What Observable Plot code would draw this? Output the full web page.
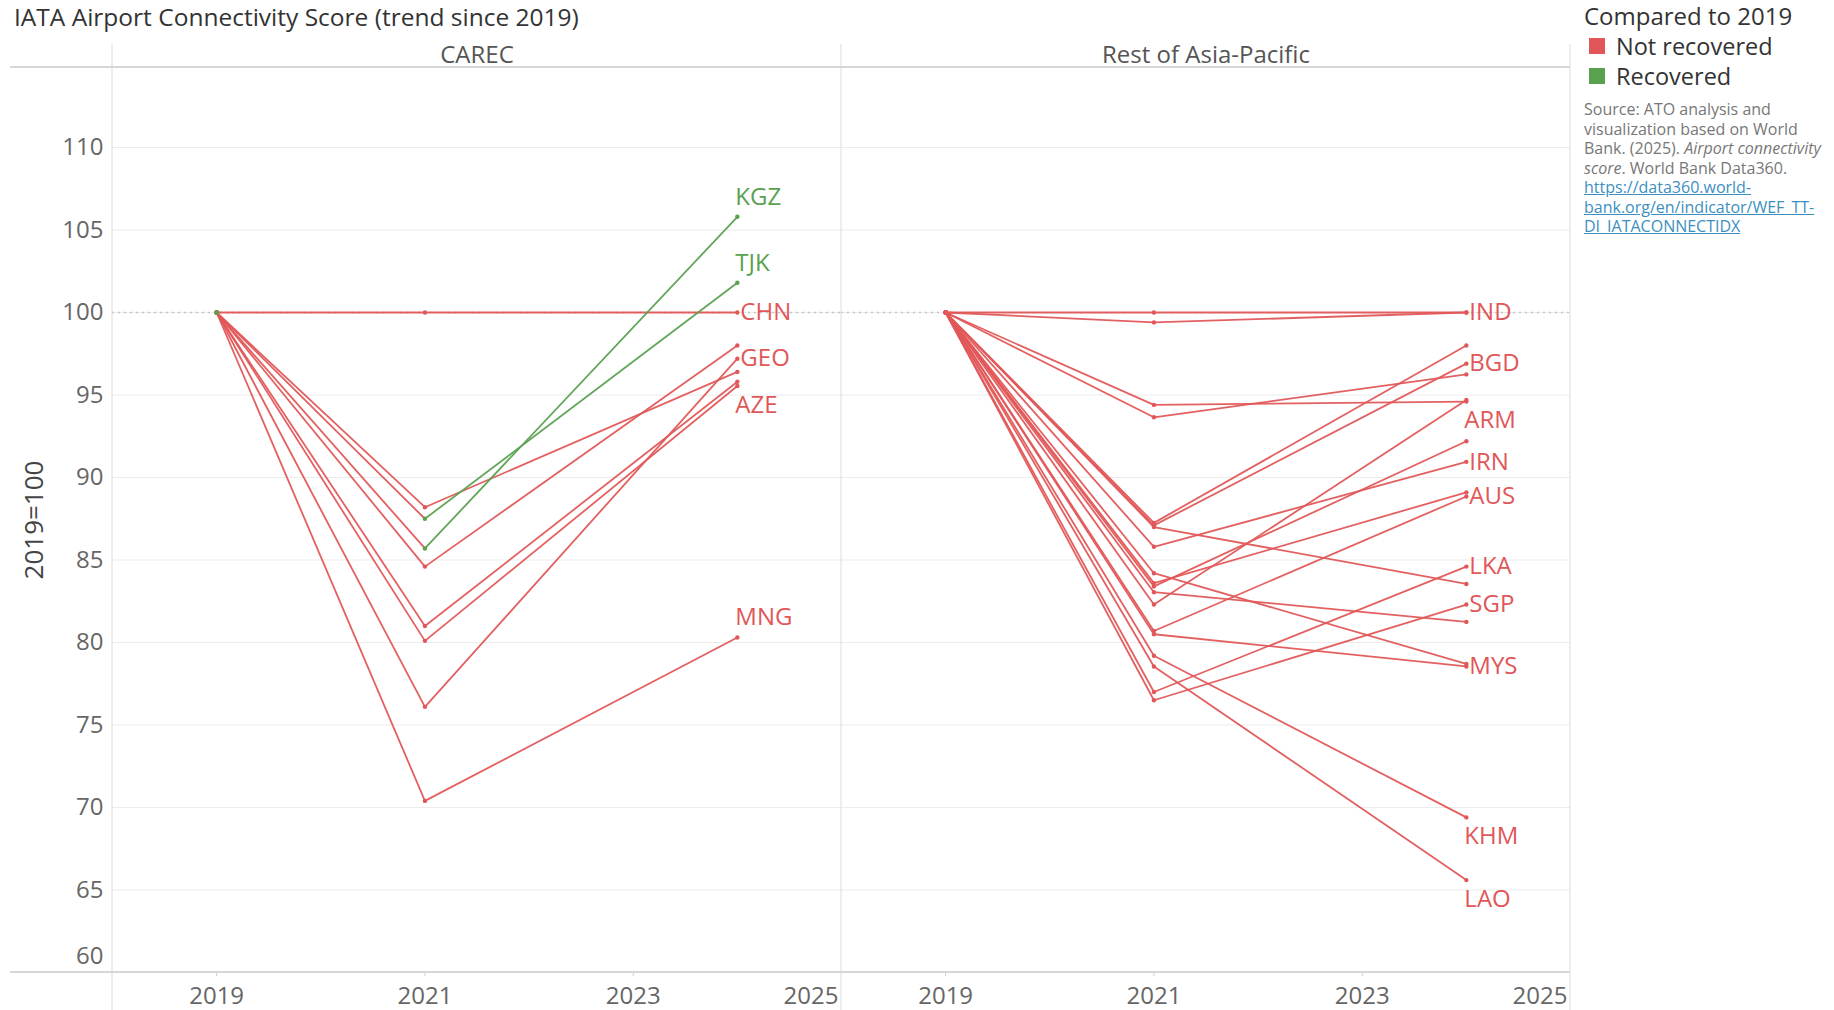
<!DOCTYPE html>
<html>
<head>
<meta charset="utf-8">
<script src="https://cdn.jsdelivr.net/npm/d3@7"></script>
<script src="https://cdn.jsdelivr.net/npm/@observablehq/plot@0.6"></script>
<style>
  body { margin: 0; background: #fff; font-family: "Open Sans", Lato, sans-serif; }
  #wrap { position: relative; width: 1834px; height: 1010px; overflow: hidden; background: #fff; }
  #title { position: absolute; left: 14px; top: 1px; font-size: 24.5px; color: #333; white-space: nowrap; line-height: 32px; }
  #chart { position: absolute; left: 0; top: 34px; }
  #legend { position: absolute; left: 1584px; top: 0; width: 250px; }
  #legend .lt { font-size: 24px; color: #333; line-height: 30px; padding-top: 1px; white-space: nowrap; }
  #legend .li { font-size: 23.5px; color: #333; line-height: 30px; white-space: nowrap; display: flex; align-items: center; }
  #legend .sw { display: inline-block; width: 16px; height: 16px; margin: 0 11px 0 5px; }
  #legend .src { margin-top: 9px; font-size: 16px; line-height: 19.5px; color: #777; white-space: nowrap; }
  #legend .src a { color: #3d8fbf; text-decoration: underline; }
</style>
</head>
<body>
<div id="wrap">
  <div id="title">IATA Airport Connectivity Score (trend since 2019)</div>
  <div id="chart"></div>
  <div id="legend"></div>
</div>
<script>
// ---------------- data ----------------
const panels = ["CAREC", "Rest of Asia-Pacific"];
const years = [2019, 2021, 2024];

const carecCodes = ["KAZ", "PAK", "GEO", "UZB", "AZE", "MNG", "CHN", "KGZ", "TJK"];
const carec2019  = [100, 100, 100, 100, 100, 100, 100, 100, 100];
const carec2021  = [84.6, 88.2, 76.1, 81.0, 80.1, 70.4, 100, 85.7, 87.5];
const carec2024  = [98.0, 96.4, 97.2, 95.8, 95.55, 80.3, 100, 105.8, 101.8];

const restCodes = ["IND", "BTN", "VNM", "BGD", "NPL", "ARM", "PHL", "JPN", "IRN", "KOR",
                   "AUS", "LKA", "THA", "SGP", "IDN", "NZL", "MYS", "KHM", "LAO"];
const rest2019  = [100, 100, 100, 100, 100, 100, 100, 100, 100, 100,
                   100, 100, 100, 100, 100, 100, 100, 100, 100];
const rest2021  = [99.4, 100, 87.25, 87.1, 93.65, 94.4, 82.3, 83.4, 85.8, 83.6,
                   80.7, 77.0, 87.0, 76.5, 83.05, 84.2, 80.5, 79.2, 78.55];
const rest2024  = [100, 100, 98.0, 96.9, 96.25, 94.6, 94.7, 92.2, 90.95, 89.1,
                   88.85, 84.6, 83.55, 82.3, 81.25, 78.7, 78.55, 69.4, 65.6];

const statusLabels = ["Not recovered", "Recovered"];
const yTicks = [60, 65, 70, 75, 80, 85, 90, 95, 100, 105, 110];
const xTicks = [2019, 2021, 2023, 2025];

// labelled countries and where the label sits relative to the last point
const labelPlacement = {
  KGZ: "above", TJK: "above", CHN: "right", GEO: "right", AZE: "below", MNG: "above",
  IND: "right", BGD: "right", ARM: "below", IRN: "right", AUS: "right",
  LKA: "right", SGP: "right", MYS: "right", KHM: "below", LAO: "below"
};

// ---------------- build rows ----------------
const rows = [];      // points
const segs = [];      // segments between consecutive years
const statusOf = (v, base) => v > base ? statusLabels[1] : statusLabels[0];
function addPanel(panel, codes, v19, v21, v24) {
  codes.forEach((code, i) => {
    const vals = [v19[i], v21[i], v24[i]];
    const status = statusOf(v24[i], v19[i]);
    years.forEach((yr, j) => rows.push({panel, code, year: yr, value: vals[j], status}));
    for (let j = 1; j < years.length; j++) {
      segs.push({panel, code, x1: years[j - 1], y1: vals[j - 1], x2: years[j], y2: vals[j],
                 status: statusOf(vals[j], v19[i])});
    }
  });
}
addPanel(panels[0], carecCodes, carec2019, carec2021, carec2024);
addPanel(panels[1], restCodes, rest2019, rest2021, rest2024);
const byStatus = (a, b) => statusLabels.indexOf(a.status) - statusLabels.indexOf(b.status);
rows.sort(byStatus);
segs.sort(byStatus);

const lastYear = years[years.length - 1];
const ends = rows.filter(d => d.year === lastYear && labelPlacement[d.code]);
const endsBy = p => ends.filter(d => labelPlacement[d.code] === p);

const red = "#e15759", green = "#59a14f";
const FS = 24;

const chart = Plot.plot({
  width: 1570,
  height: 976,
  marginLeft: 112,
  marginRight: 0,
  marginTop: 33,
  marginBottom: 38,
  style: {fontFamily: "'Open Sans', Lato, sans-serif", fontSize: FS + "px", color: "#666", background: "transparent", overflow: "visible"},
  fx: {domain: panels, padding: 0, label: null},
  x: {domain: [2018, 2025], label: null},
  y: {domain: [60, 114.85], label: null},
  color: {type: "ordinal", domain: statusLabels, range: [red, green]},
  marks: [
    Plot.gridY(yTicks.filter(t => t > 60), {stroke: "#ececec", strokeOpacity: 1, strokeWidth: 1.2}),
    Plot.ruleY([100], {stroke: "#c4c4c4", strokeDasharray: "2,4", strokeWidth: 1.3}),
    Plot.link(segs, {fx: "panel", x1: "x1", y1: "y1", x2: "x2", y2: "y2", stroke: "status", strokeWidth: 1.8, strokeOpacity: 0.95}),
    Plot.dot(rows, {fx: "panel", x: "year", y: "value", fill: "status", r: 2.2}),
    Plot.text(endsBy("right"), {fx: "panel", x: "year", y: "value", text: "code", fill: "status", textAnchor: "start", dx: 3, fontSize: FS}),
    Plot.text(endsBy("above"), {fx: "panel", x: "year", y: "value", text: "code", fill: "status", textAnchor: "start", dx: -2, dy: -20, fontSize: FS}),
    Plot.text(endsBy("below"), {fx: "panel", x: "year", y: "value", text: "code", fill: "status", textAnchor: "start", dx: -2, dy: 19, fontSize: FS}),
    Plot.axisFx({anchor: "top", label: null, tickSize: 0, tickPadding: 5, fill: "#555", fontSize: FS}),
    Plot.axisY(yTicks.filter(t => t > 60), {anchor: "left", tickSize: 0, tickPadding: 9, fill: "#666", fontSize: FS,
      label: "2019=100", labelAnchor: "center", labelArrow: "none", labelOffset: 88}),
    Plot.axisY([60], {anchor: "left", tickSize: 0, tickPadding: 9, fill: "#666", fontSize: FS, dy: -16, label: null}),
    Plot.axisX(xTicks.slice(0, 3), {anchor: "bottom", tickSize: 4, tickPadding: 10, stroke: "#cfcfcf", fill: "#666", fontSize: FS, tickFormat: d => String(d), label: null}),
    Plot.axisX(xTicks.slice(3), {anchor: "bottom", tickSize: 0, tickPadding: 14, fill: "#666", fontSize: FS, textAnchor: "end", dx: -3, tickFormat: d => String(d), label: null})
  ]
});
document.getElementById("chart").append(chart);

// y-axis title: slightly larger and darker
d3.select(chart).selectAll("[aria-label='y-axis label']").attr("fill", "#444").attr("font-size", 26);

// frame lines (header rule, bottom axis rule, panel separators), from the scales
const fxS = chart.scale("fx"), yS = chart.scale("y");
const topY = yS.apply(yS.domain[1]), botY = yS.apply(yS.domain[0]);
const edges = panels.map(p => fxS.apply(p));
const rightEdge = edges[edges.length - 1] + fxS.bandwidth;
edges.push(rightEdge);
const g = d3.select(chart).append("g").attr("aria-label", "frame");
g.selectAll("line.v").data(edges).join("line")
  .attr("x1", d => d).attr("x2", d => d).attr("y1", 10).attr("y2", 976)
  .attr("stroke", "#dcdcdc").attr("stroke-width", 1);
g.selectAll("line.h").data([topY, botY]).join("line")
  .attr("x1", 10).attr("x2", rightEdge).attr("y1", d => d).attr("y2", d => d)
  .attr("stroke", "#d6d6d6").attr("stroke-width", 2);

// legend + source
const leg = d3.select("#legend");
leg.append("div").attr("class", "lt").text("Compared to 2019");
statusLabels.forEach((s, i) => {
  const row = leg.append("div").attr("class", "li");
  row.append("span").attr("class", "sw").style("background", [red, green][i]);
  row.append("span").text(s);
});
leg.append("div").attr("class", "src").html(
  "Source: ATO analysis and<br>visualization based on World<br>Bank. (2025). <i>Airport connectivity</i><br><i>score</i>. World Bank Data360.<br>" +
  "<a>https://data360.world-<br>bank.org/en/indicator/WEF_TT-<br>DI_IATACONNECTIDX</a>");
</script>
</body>
</html>
